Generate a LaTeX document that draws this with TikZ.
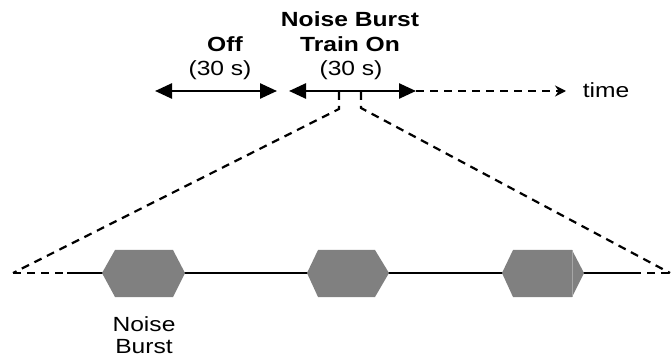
\documentclass[tikz,border=0pt]{standalone}
\usepackage{fontspec}
\setmainfont{Liberation Sans}
\usetikzlibrary{arrows.meta}
\newcommand{\wx}[1]{\scalebox{1.2}[1]{#1}}
\definecolor{hexgray}{RGB}{128,128,128}
\tikzset{
  lbl/.style={inner sep=0pt, anchor=base, font=\fontsize{20.5}{24}\selectfont},
  blbl/.style={lbl, font=\fontsize{20.5}{24}\selectfont\bfseries},
  period/.style={line width=2.5pt, {Triangle[length=17pt,width=15pt]}-{Triangle[length=17pt,width=15pt]}},
  dsh/.style={line width=2.2pt, dash pattern=on 8pt off 6pt},
  base/.style={line width=2.2pt},
  hexa/.style={fill=hexgray, draw=none},
}
\begin{document}
\begin{tikzpicture}[x=1pt,y=-1pt]
\useasboundingbox (0,0) rectangle (672,358);
% top labels
\node[blbl] (offl) at (225,52) {\wx{Off}};
\node[lbl] (offt) at (220,76) {\wx{(30 s)}};
\node[blbl] (on1) at (350,27) {\wx{Noise Burst}};
\node[blbl] (on2) at (350,52) {\wx{Train On}};
\node[lbl] (ont) at (351,76) {\wx{(30 s)}};
\node[lbl] (time) at (606,98) {\wx{time}};
% time axis
\coordinate (offA) at (155,91);
\coordinate (offB) at (277,91);
\coordinate (onA) at (289,91);
\coordinate (onB) at (416,91);
\coordinate (tEnd) at (566,91);
\draw[period] (offA) -- (offB);
\draw[period] (onA) -- (onB);
\draw[line width=1.8pt, dash pattern=on 8pt off 6pt, -{Stealth[length=11pt,width=11pt]}] (onB) -- (tEnd);
% zoom lines
\coordinate (tk1) at (339,92);
\coordinate (tk1b) at (339,109);
\coordinate (tk2) at (361,92);
\coordinate (tk2b) at (361,108);
\coordinate (bl0) at (13,273);
\coordinate (bl1) at (67,273);
\coordinate (bl2) at (633,273);
\coordinate (bl3) at (672,273);
\coordinate (br) at (670,273);
\draw[dsh] (tk1) -- (tk1b) -- (bl0);
\draw[dsh] (tk2) -- (tk2b) -- (br);
% baseline
\draw[dsh] (bl0) -- (bl1);
\draw[base] (bl1) -- (bl2);
\draw[dsh] (bl2) -- (bl3);
% hexagons (noise bursts)
\fill[hexa] (102,273) -- (115,250) -- (173,250) -- (185,273) -- (173,297) -- (115,297) -- cycle;
\fill[hexa] (307,273) -- (318,250) -- (375,250) -- (389,273) -- (375,297) -- (318,297) -- cycle;
\fill[hexa] (502,273) -- (513,250) -- (572,250) -- (584,273) -- (572,297) -- (513,297) -- cycle;
\draw[gray!70, line width=0.6pt] (572,250) -- (572,297);
% burst label
\node[lbl] (nb1) at (144,331) {\wx{Noise}};
\node[lbl] (nb2) at (144,353) {\wx{Burst}};
\end{tikzpicture}
\end{document}
